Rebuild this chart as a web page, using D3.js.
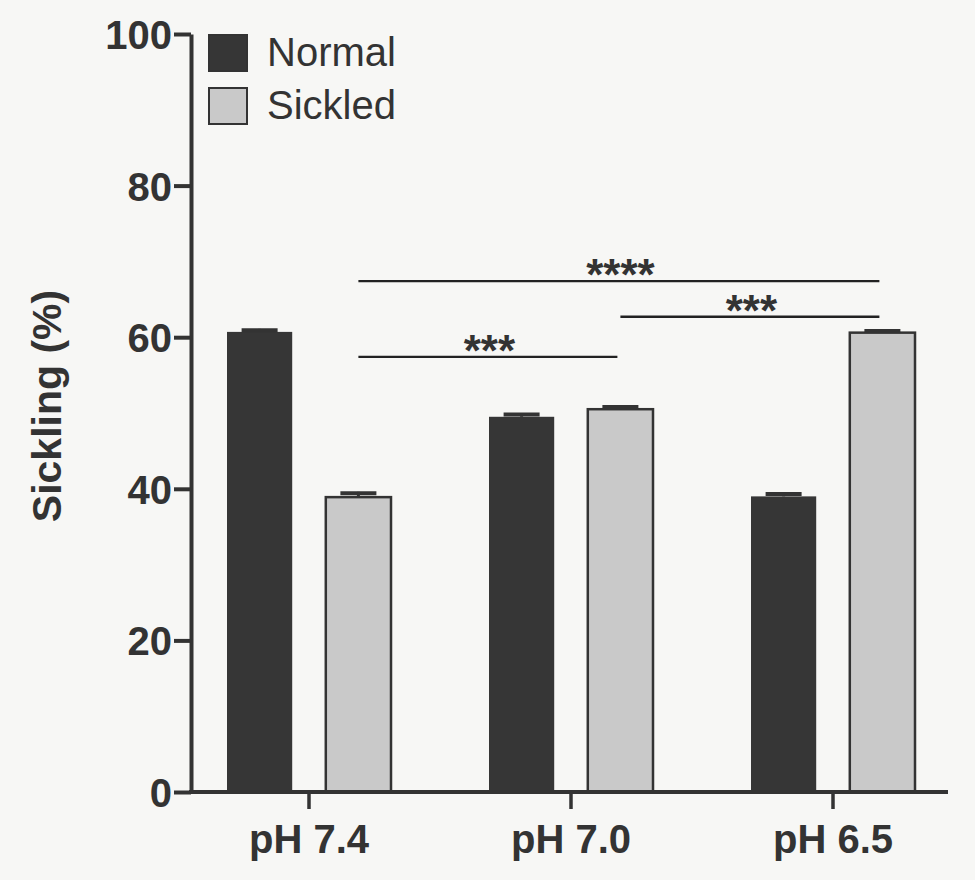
<!DOCTYPE html>
<html>
<head>
<meta charset="utf-8">
<script src="https://cdn.jsdelivr.net/npm/d3@7"></script>
<style>
  html, body { margin: 0; padding: 0; background: #f7f7f5; }
  svg { display: block; }
  text { font-family: "Liberation Sans", Arial, Helvetica, sans-serif; fill: #333; }
</style>
</head>
<body>
<div class="chart-container"></div>
<script>
const groups = ['pH 7.4', 'pH 7.0', 'pH 6.5'];
const series = ['Normal', 'Sickled'];
const normal = [60.7, 49.5, 39.0];
const normalErr = [0.4, 0.5, 0.5];
const sickled = [38.9, 50.5, 60.6];
const sickledErr = [0.7, 0.5, 0.4];
const yTicks = [0, 20, 40, 60, 80, 100];
const comparisons = [
  {from: 'pH 7.4', to: 'pH 7.0', level: 57.4, label: '***'},
  {from: 'pH 7.0', to: 'pH 6.5', level: 62.7, label: '***'},
  {from: 'pH 7.4', to: 'pH 6.5', level: 67.4, label: '****'}
];

const width = 975, height = 880;
const axisX = 191, axisEnd = 948;
const dark = '#363636', light = '#c9c9c9', ink = '#333';

const svg = d3.select('.chart-container').append('svg')
    .attr('width', width)
    .attr('height', height);

svg.append('rect').attr('width', width).attr('height', height).attr('fill', '#f7f7f5');

const y = d3.scaleLinear().domain([0, 100]).range([792, 34]);

const x0 = d3.scaleBand()
    .domain(groups)
    .range([178, 964])
    .padding(0);

const x1 = d3.scaleBand()
    .domain(series)
    .range([49, 213])
    .paddingInner(0.34);

const color = d3.scaleOrdinal().domain(series).range([dark, light]);

// rows for bars
const rows = [];
groups.forEach((g, i) => {
  rows.push({group: g, key: 'Normal', value: normal[i], err: normalErr[i]});
  rows.push({group: g, key: 'Sickled', value: sickled[i], err: sickledErr[i]});
});

// bars
const bars = svg.append('g').attr('id', 'bars');
bars.selectAll('rect')
  .data(rows)
  .enter()
  .append('rect')
    .attr('x', d => x0(d.group) + x1(d.key))
    .attr('y', d => y(d.value))
    .attr('width', x1.bandwidth())
    .attr('height', d => y(0) - y(d.value))
    .attr('fill', d => color(d.key))
    .attr('stroke', d => d.key === 'Sickled' ? ink : 'none')
    .attr('stroke-width', 2.5);

// error bars (upper only)
const errs = svg.append('g').attr('id', 'errors');
errs.selectAll('line.stem')
  .data(rows)
  .enter()
  .append('line')
    .attr('class', 'stem')
    .attr('x1', d => x0(d.group) + x1(d.key) + x1.bandwidth() / 2)
    .attr('x2', d => x0(d.group) + x1(d.key) + x1.bandwidth() / 2)
    .attr('y1', d => y(d.value))
    .attr('y2', d => y(d.value + d.err))
    .attr('stroke', ink)
    .attr('stroke-width', 3);
errs.selectAll('line.cap')
  .data(rows)
  .enter()
  .append('line')
    .attr('class', 'cap')
    .attr('x1', d => x0(d.group) + x1(d.key) + x1.bandwidth() / 2 - 18)
    .attr('x2', d => x0(d.group) + x1(d.key) + x1.bandwidth() / 2 + 18)
    .attr('y1', d => y(d.value + d.err) + 1.5)
    .attr('y2', d => y(d.value + d.err) + 1.5)
    .attr('stroke', ink)
    .attr('stroke-width', 4);

// y axis
const yAxis = svg.append('g')
    .attr('transform', 'translate(' + axisX + ',0)')
    .call(d3.axisLeft(y).tickValues(yTicks).tickSize(17).tickSizeOuter(0).tickPadding(2));
yAxis.select('.domain').attr('stroke', ink).attr('stroke-width', 4);
yAxis.selectAll('.tick line').attr('stroke', ink).attr('stroke-width', 4);
yAxis.selectAll('.tick text')
    .attr('font-size', 40)
    .attr('font-weight', 'bold')
    .attr('font-family', '"Liberation Sans", Arial, sans-serif')
    .attr('fill', ink)
    .attr('dy', '0.36em');

// x axis
const xAxis = svg.append('g')
    .attr('transform', 'translate(0,' + y(0) + ')')
    .call(d3.axisBottom(x0).tickSize(17).tickPadding(16));
xAxis.select('.domain').remove();
xAxis.selectAll('.tick line').attr('stroke', ink).attr('stroke-width', 3.5);
xAxis.selectAll('.tick text')
    .attr('font-size', 40)
    .attr('font-weight', 'bold')
    .attr('font-family', '"Liberation Sans", Arial, sans-serif')
    .attr('fill', ink);
xAxis.append('line')
    .attr('x1', axisX - 2)
    .attr('x2', axisEnd)
    .attr('y1', 0)
    .attr('y2', 0)
    .attr('stroke', ink)
    .attr('stroke-width', 4);

// y label
svg.append('text')
    .attr('transform', 'translate(61,' + 406 + ') rotate(-90)')
    .attr('text-anchor', 'middle')
    .attr('font-size', 41)
    .attr('font-weight', 'bold')
    .text('Sickling (%)');

// significance brackets
const sx = g => x0(g) + x1('Sickled') + x1.bandwidth() / 2;
const sig = svg.append('g').attr('id', 'significance');
sig.selectAll('line')
  .data(comparisons)
  .enter()
  .append('line')
    .attr('x1', d => sx(d.from))
    .attr('x2', d => sx(d.to) - 3)
    .attr('y1', d => y(d.level))
    .attr('y2', d => y(d.level))
    .attr('stroke', '#222')
    .attr('stroke-width', 2.4);
sig.selectAll('text')
  .data(comparisons)
  .enter()
  .append('text')
    .attr('x', d => (sx(d.from) + sx(d.to)) / 2)
    .attr('y', d => y(d.level) + 9)
    .attr('text-anchor', 'middle')
    .attr('font-size', 44)
    .attr('font-weight', 'bold')
    .text(d => d.label);

// legend
const legend = svg.append('g').attr('id', 'legend');
const li = legend.selectAll('g')
  .data(series)
  .enter()
  .append('g')
    .attr('transform', (d, i) => 'translate(209,' + (35 + i * 53) + ')');
li.append('rect')
    .attr('width', 38)
    .attr('height', 36)
    .attr('fill', d => color(d))
    .attr('stroke', ink)
    .attr('stroke-width', 2);
li.append('text')
    .attr('x', 58)
    .attr('y', 31)
    .attr('font-size', 40)
    .text(d => d);
</script>
</body>
</html>
